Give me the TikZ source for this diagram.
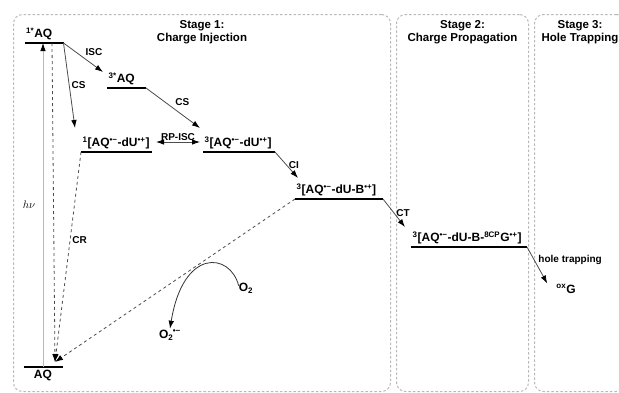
\documentclass[tikz,border=0pt]{standalone}
\usepackage{fontspec}
\setmainfont{Liberation Sans}
\usetikzlibrary{arrows.meta,positioning,calc}

\newcommand{\rad}[1]{\textsuperscript{#1}}

\begin{document}
\begin{tikzpicture}[
  x=1pt, y=-1pt,
  stagebox/.style={draw=gray!55, line width=1pt, dash pattern=on 2.5pt off 2pt,
                   rounded corners=9pt, anchor=north west, inner sep=0pt},
  title/.style={font=\fontsize{11.5}{13}\selectfont\bfseries, align=center, inner sep=1pt},
  lvl/.style={font=\fontsize{12}{14}\selectfont\bfseries, anchor=south west,
              inner xsep=1.5pt, inner ysep=2.5pt},
  spec/.style={font=\fontsize{12}{14}\selectfont\bfseries, inner sep=1pt},
  bar/.style={line width=2.4pt},
  lab/.style={font=\fontsize{10}{12}\selectfont\bfseries, inner sep=2pt},
  arr/.style={-{Latex[length=8pt,width=5.5pt,color=black]}, draw=black!70, line width=0.8pt},
  back/.style={arr, dashed}
]
\useasboundingbox (0,0) rectangle (619,392);

% stages
\node[stagebox, minimum width=377pt, minimum height=377pt] (st1) at (13,14) {};
\node[stagebox, minimum width=132pt, minimum height=377pt] (st2) at (396,14) {};
\node[stagebox, minimum width=91pt, minimum height=377pt] (st3) at (534,14) {};
\node[title, below=5pt of st1.north] (t1) {Stage 1:\\Charge Injection};
\node[title, below=5pt of st2.north] (t2) {Stage 2:\\Charge Propagation};
\node[title, below=5pt of st3.north] (t3) {Stage 3:\\Hole Trapping};

% energy levels
\node[lvl] (a1) at (24.5,43) {\rad{1*}AQ};
\draw[bar] (a1.south west) -- ++(39,0) coordinate (a1e);
\node[lvl] (a3) at (107,88) {\rad{3*}AQ};
\draw[bar] (a3.south west) -- ++(39,0) coordinate (a3e);
\node[lvl] (r1) at (81,152) {\rad{1}[AQ\rad{•−}-dU\rad{•+}]};
\draw[bar] (r1.south west) -- ++(71,0) coordinate (r1e);
\node[lvl] (r3) at (203,152) {\rad{3}[AQ\rad{•−}-dU\rad{•+}]};
\draw[bar] (r3.south west) -- ++(72,0) coordinate (r3e);
\node[lvl] (b) at (295,199) {\rad{3}[AQ\rad{•−}-dU-B\rad{•+}]};
\draw[bar] (b.south west) -- ++(88,0) coordinate (be);
\node[lvl] (g) at (411,247) {\rad{3}[AQ\rad{•−}-dU-B-\rad{8CP}G\rad{•+}]};
\draw[bar] (g.south west) -- ++(116,0) coordinate (ge);
\node[spec, anchor=north] (aq) at (43,369) {AQ};
\draw[bar] ($(aq.north)+(-19.5,-2)$) -- ++(39,0);
\node[spec] (ox) at (566,289) {\rad{ox}G};
\node[spec] (o2) at (246,288) {O\textsubscript{2}};
\node[spec] (o2m) at (170,335) {O\textsubscript{2}\kern-0.5pt\rad{•−}};
\coordinate (tip) at ($(aq.north)+(12,-7)$);

% transitions
\draw[arr, draw=gray!55] ($(aq.north)+(0,-2)$) -- (aq.north |- a1.south)
  node[midway, left=4pt, font=\fontsize{11}{13}\selectfont] {$h\nu$};
\draw[arr] (a1e) -- ($(a3.south west)+(-4,-16)$) node[lab, midway, above right] {ISC};
\draw[arr] (a1e) -- ($(r1.south west)+(-6,-24)$) node[lab, midway, right] {CS};
\draw[arr] (a3e) -- ($(r3.south west)+(-3,-24)$) node[lab, midway, above right] {CS};
\draw[arr, {Latex[length=8pt,width=5.5pt,color=black]}-{Latex[length=8pt,width=5.5pt,color=black]}]
  ($(r1e)+(4,-10)$) -- ($(r3.south west)+(-3,-10)$) node[lab, midway, above=-1pt] {RP-ISC};
\draw[arr] (r3e) -- ($(b.south west)+(3,-21)$) node[lab, midway, right] {CI};
\draw[arr] (be) -- ($(g.south west)+(-6,-20)$) node[lab, midway, right] {CT};
\draw[arr] (ge) -- ($(ox.north west)+(-8,0)$) node[lab, pos=.35, right=2pt] {hole trapping};

% back reactions
\draw[back] ($(aq.north |- a1.south)+(9,0)$) -- (tip);
\draw[back] (r1.south west) -- (tip) node[lab, pos=.42, right] {CR};
\draw[back] (b.south west) -- (tip);
\draw[arr, draw=black!80] ($(o2.north west)+(1,4)$) .. controls (230,252) and (183,248) .. (o2m.north);
\end{tikzpicture}
\end{document}
